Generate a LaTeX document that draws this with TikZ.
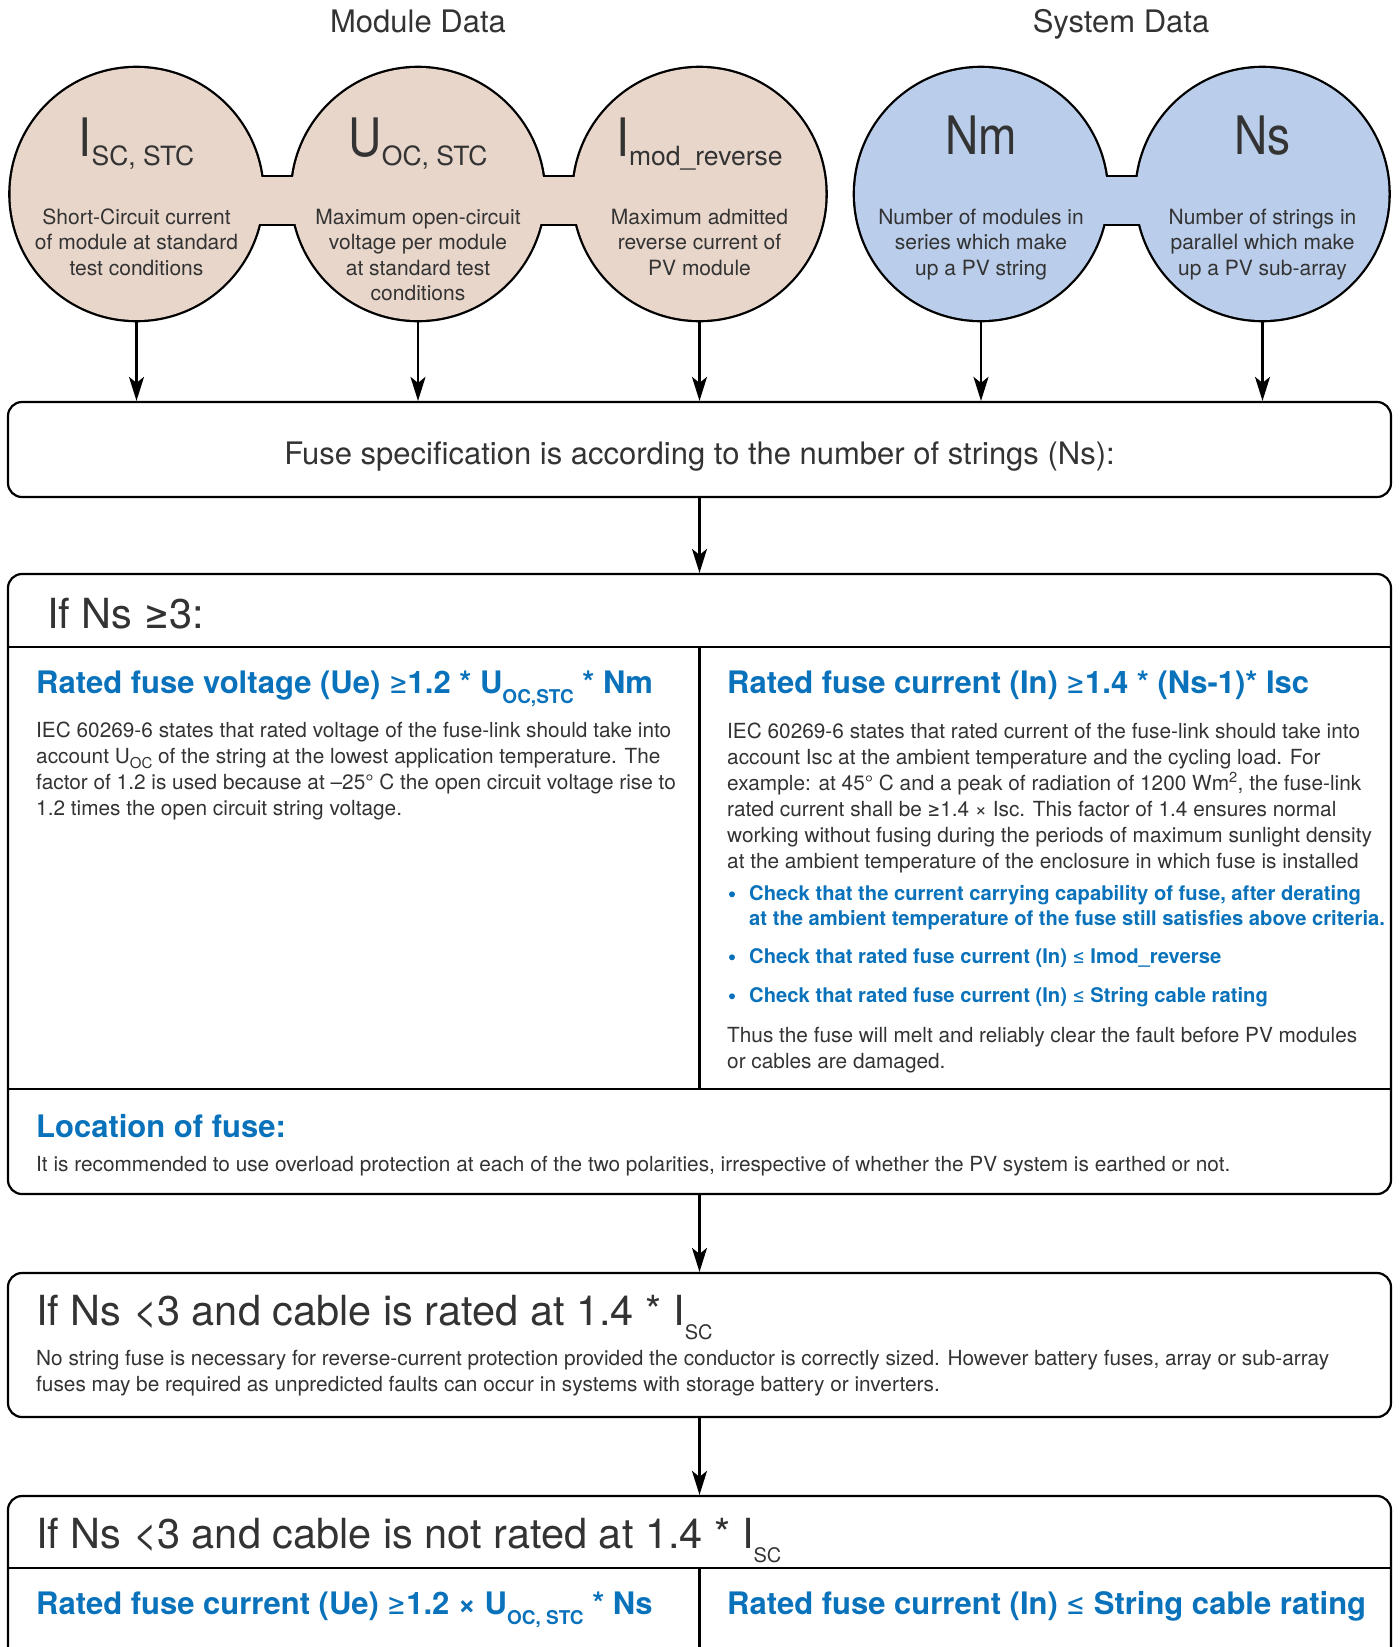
\documentclass[tikz,border=0pt]{standalone}
\usepackage{fontspec}
\setmainfont{TeX Gyre Heros}
\newfontfamily\symbfont[FakeStretch=0.87]{TeX Gyre Heros}
\newfontfamily\relfont{DejaVu Sans}
\usetikzlibrary{arrows.meta, positioning, calc}

\definecolor{modfill}{HTML}{E8D6CA}
\definecolor{sysfill}{HTML}{BACDEA}
\definecolor{headblue}{HTML}{0A72BA}
\definecolor{txtgray}{HTML}{333333}

\newcommand{\setfs}[2]{\fontsize{#1}{#2}\selectfont}
\newcommand{\lowtxt}[2]{\raisebox{-#1}{#2}}
\newcommand{\gesign}{\scalebox{0.72}[0.95]{\relfont\mdseries ≥}}
\newcommand{\lesign}{\scalebox{0.72}[0.95]{\relfont\mdseries ≤}}

\tikzset{
  blob/.style={circle, draw=black, line width=4.6pt, minimum size=252pt, inner sep=0pt, outer sep=0pt},
  bridge/.style={line width=4.6pt},
  flowbox/.style={draw=black, line width=2.2pt, rounded corners=14pt, minimum width=1383pt},
  flow/.style={line width=2.4pt, -{Stealth[length=24pt, width=15pt, inset=6pt]}},
  sep/.style={line width=2.2pt},
  title/.style={text=txtgray, font=\setfs{31}{36}, anchor=base, inner sep=0pt},
  symb/.style={text=txtgray, font=\symbfont\setfs{53}{56}, anchor=base, inner sep=0pt},
  desc/.style={text=txtgray, font=\setfs{21}{25.5}, align=center, anchor=north, inner sep=0pt},
  body/.style={text=txtgray, font=\setfs{20.8}{25.9}, align=left, anchor=north west, inner sep=0pt},
  big/.style={text=txtgray, font=\setfs{41.5}{46}, anchor=base west, inner sep=0pt},
  head/.style={text=headblue, font=\setfs{31}{36}\bfseries, anchor=base west, inner sep=0pt},
  bul/.style={text=headblue, font=\setfs{20.2}{25}\bfseries, align=left, anchor=north west, inner sep=0pt}
}

\begin{document}
\begin{tikzpicture}[x=1pt, y=-1pt]
\useasboundingbox (0,0) rectangle (1400,1647);
\clip (0,0) rectangle (1400,1647);

% data circles, first pass: thick outline
\node[blob, fill=modfill] (isc) at (136.5,194) {};
\node[blob, fill=modfill] (uoc) at (418,194) {};
\node[blob, fill=modfill] (imod) at (699.5,194) {};
\node[blob, fill=sysfill] (nm) at (981,194) {};
\node[blob, fill=sysfill] (ns) at (1262.5,194) {};
\filldraw[bridge, fill=modfill] ($(isc.center)+(60,-17)$) rectangle ($(uoc.center)+(-60,30)$);
\filldraw[bridge, fill=modfill] ($(uoc.center)+(60,-17)$) rectangle ($(imod.center)+(-60,30)$);
\filldraw[bridge, fill=sysfill] ($(nm.center)+(60,-17)$) rectangle ($(ns.center)+(-60,30)$);

% second pass: fill over the inner half of the outline
\foreach \c/\col in {isc/modfill, uoc/modfill, imod/modfill, nm/sysfill, ns/sysfill}
  \fill[\col] (\c.center) circle[radius=126pt];
\fill[modfill] ($(isc.center)+(60,-17)$) rectangle ($(uoc.center)+(-60,30)$);
\fill[modfill] ($(uoc.center)+(60,-17)$) rectangle ($(imod.center)+(-60,30)$);
\fill[sysfill] ($(nm.center)+(60,-17)$) rectangle ($(ns.center)+(-60,30)$);

\node[title] (moddata) at (418,32) {Module Data};
\node[title] (sysdata) at (1121,32) {System Data};

\node[symb] (isc-sym) at (isc.center |- 0,156) {I\lowtxt{9pt}{\normalfont\setfs{26.5}{30}SC, STC}};
\node[symb] (uoc-sym) at (uoc.center |- 0,156) {U\lowtxt{9pt}{\normalfont\setfs{26.5}{30}OC, STC}};
\node[symb] (imod-sym) at (imod.center |- 0,156) {I\lowtxt{9pt}{\normalfont\setfs{26.5}{30}mod\_reverse}};
\node[symb] (nm-sym) at (nm.center |- 0,154) {Nm};
\node[symb] (ns-sym) at (ns.center |- 0,154) {Ns};

\node[desc] (isc-txt) at (isc.center |- 0,208.5) {Short-Circuit current\\of module at standard\\test conditions};
\node[desc] (uoc-txt) at (uoc.center |- 0,208.5) {Maximum open-circuit\\voltage per module\\at standard test\\conditions};
\node[desc] (imod-txt) at (imod.center |- 0,208.5) {Maximum admitted\\reverse current of\\PV module};
\node[desc] (nm-txt) at (nm.center |- 0,208.5) {Number of modules in\\series which make\\up a PV string};
\node[desc] (ns-txt) at (ns.center |- 0,208.5) {Number of strings in\\parallel which make\\up a PV sub-array};

% fuse specification
\node[flowbox, minimum height=95pt] (spec) at (699.5,449.5) {};
\node[title] (spec-txt) at (699.5,464) {Fuse specification is according to the number of strings (Ns):};
\foreach \c in {isc, uoc, imod, nm, ns}
  \draw[flow] (\c) -- (\c |- spec.north);

% Ns >= 3
\node[flowbox, minimum height=620pt] (nsge) at (699.5,884) {};
\draw[flow] (spec) -- (nsge);
\draw[sep] (nsge.west |- 0,646.7) -- (nsge.east |- 0,646.7);
\draw[sep] (699.5,646.7) -- (699.5,1089);
\draw[sep] (nsge.west |- 0,1089) -- (nsge.east |- 0,1089);
\node[big] (nsge-head) at (47,628) {If Ns \gesign3:};

\node[head] (volt-head) at (36,693) {Rated fuse voltage (Ue) \gesign1.2 * U\lowtxt{10pt}{\setfs{19}{22}OC,STC} * Nm};
\node[body] (volt-txt) at (36,721.8) {IEC 60269-6 states that rated voltage of the fuse-link should take into\\account U\lowtxt{5pt}{\setfs{15}{18}OC} of the string at the lowest application temperature. The\\factor of 1.2 is used because at –25° C the open circuit voltage rise to\\1.2 times the open circuit string voltage.};

\node[head] (curr-head) at (727,693) {Rated fuse current (In) \gesign1.4 * (Ns-1)* Isc};
\node[body] (curr-txt) at (727,722.8) {IEC 60269-6 states that rated current of the fuse-link should take into\\account Isc at the ambient temperature and the cycling load. For\\example: at 45° C and a peak of radiation of 1200 Wm\textsuperscript{2}, the fuse-link\\rated current shall be \gesign1.4 × Isc. This factor of 1.4 ensures normal\\working without fusing during the periods of maximum sunlight density\\at the ambient temperature of the enclosure in which fuse is installed};

\node[bul] (chk1) at (749,885.3) {Check that the current carrying capability of fuse, after derating\\at the ambient temperature of the fuse still satisfies above criteria.};
\node[bul] (chk2) at (749,948.3) {Check that rated fuse current (In) \lesign{} Imod\_reverse};
\node[bul] (chk3) at (749,987.3) {Check that rated fuse current (In) \lesign{} String cable rating};
\foreach \c in {chk1, chk2, chk3}
  \fill[headblue] ([xshift=-17pt, yshift=-9pt]\c.north west) circle[radius=3pt];
\node[body] (thus-txt) at (727,1026.8) {Thus the fuse will melt and reliably clear the fault before PV modules\\or cables are damaged.};

\node[head] (loc-head) at (36,1137) {Location of fuse:};
\node[body, anchor=base west] (loc-txt) at (36,1171) {It is recommended to use overload protection at each of the two polarities, irrespective of whether the PV system is earthed or not.};

% Ns < 3, cable rated
\node[flowbox, minimum height=144pt] (nslt) at (699.5,1345) {};
\draw[flow] (nsge) -- (nslt);
\node[big] (nslt-head) at (36,1325) {If Ns <3 and cable is rated at 1.4 * I\lowtxt{14pt}{\setfs{20}{24}SC}};
\node[body] (nslt-txt) at (36,1349.8) {No string fuse is necessary for reverse-current protection provided the conductor is correctly sized. However battery fuses, array or sub-array\\fuses may be required as unpredicted faults can occur in systems with storage battery or inverters.};

% Ns < 3, cable not rated
\node[flowbox, minimum height=204pt] (nsnot) at (699.5,1598) {};
\draw[flow] (nslt) -- (nsnot);
\draw[sep] (nsnot.west |- 0,1567.7) -- (nsnot.east |- 0,1567.7);
\draw[sep] (699.5,1567.7) -- (nsnot.south);
\node[big] (nsnot-head) at (36,1548) {If Ns <3 and cable is not rated at 1.4 * I\lowtxt{14pt}{\setfs{20}{24}SC}};
\node[head] (ue-head) at (36,1614) {Rated fuse current (Ue) \gesign1.2 × U\lowtxt{10pt}{\setfs{19}{22}OC, STC} * Ns};
\node[head] (in-head) at (727,1614) {Rated fuse current (In) \lesign{} String cable rating};
\end{tikzpicture}
\end{document}
